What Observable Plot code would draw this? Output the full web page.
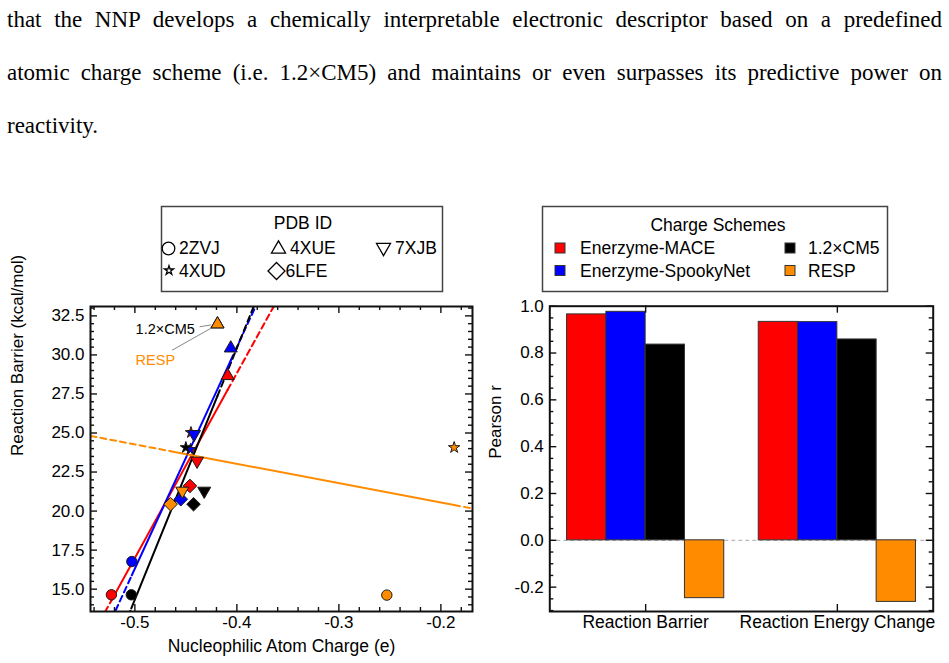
<!DOCTYPE html>
<html>
<head>
<meta charset="utf-8">
<script src="https://cdn.jsdelivr.net/npm/d3@7"></script>
<script src="https://cdn.jsdelivr.net/npm/@observablehq/plot@0.6"></script>
<style>
html,body{margin:0;padding:0;background:#fff;}
body{width:949px;height:663px;position:relative;overflow:hidden;font-family:"Liberation Sans",Arial,Helvetica,sans-serif;color:#000;}
.line{position:absolute;left:7px;width:935px;font-family:"Liberation Serif","Times New Roman",serif;font-size:23px;line-height:40px;height:40px;}
.just{text-align:justify;text-align-last:justify;}
.abs{position:absolute;}
</style>
</head>
<body>
<div class="line just" style="top:0px">that the NNP develops a chemically interpretable electronic descriptor based on a predefined</div>
<div class="line just" style="top:53px">atomic charge scheme (i.e. 1.2×CM5) and maintains or even surpasses its predictive power on</div>
<div class="line" style="top:106px">reactivity.</div>
<div id="legL" class="abs" style="left:150px;top:200px;"></div>
<div id="legR" class="abs" style="left:530px;top:200px;"></div>
<div id="left" class="abs" style="left:0px;top:290px;"></div>
<div id="right" class="abs" style="left:480px;top:290px;"></div>
<script>
// ---------------- data ----------------
const pdbIds = ["2ZVJ", "4XUE", "7XJB", "4XUD", "6LFE"];
const schemes = ["Enerzyme-MACE", "Enerzyme-SpookyNet", "1.2×CM5", "RESP"];
const schemeColors = ["#ff0000", "#0000ff", "#000000", "#ff8c00"];

// nucleophilic atom charge (e), ordered as pdbIds
const chargeMACE   = [-0.523, -0.409, -0.439, -0.445, -0.446];
const chargeSpooky = [-0.503, -0.406, -0.442, -0.4455, -0.455];
const chargeCM5    = [-0.5035, -0.419, -0.432, -0.450, -0.4425];
const chargeRESP   = [-0.253, -0.419, -0.4535, -0.187, -0.465];
// reaction barrier (kcal/mol), ordered as pdbIds
const barrierMACE   = [14.64, 28.66, 23.21, 25.03, 21.61];
const barrierSpooky = [16.77, 30.43, 24.92, 23.95, 20.76];
const barrierCM5    = [14.64, 31.97, 21.29, 24.07, 20.44];
const barrierRESP   = [14.62, 31.97, 21.29, 24.07, 20.44];

const metrics = ["Reaction Barrier", "Reaction Energy Change"];
const pearsonMACE   = [0.965, 0.933];
const pearsonSpooky = [0.976, 0.932];
const pearsonCM5    = [0.836, 0.858];
const pearsonRESP   = [-0.247, -0.263];

const xTicksLeft  = [-0.5, -0.4, -0.3, -0.2];
const yTicksLeft  = [15, 17.5, 20, 22.5, 25, 27.5, 30, 32.5];
const yTicksRight = [-0.2, 0, 0.2, 0.4, 0.6, 0.8, 1.0];

// ---------------- helpers ----------------
const FONT = '"Liberation Sans", Arial, Helvetica, sans-serif';
const charges = [chargeMACE, chargeSpooky, chargeCM5, chargeRESP];
const barriers = [barrierMACE, barrierSpooky, barrierCM5, barrierRESP];
const pearsons = [pearsonMACE, pearsonSpooky, pearsonCM5, pearsonRESP];

function makeSymbols(sz) {
  const circle = {draw(c) { const r = sz.circle; c.moveTo(r, 0); c.arc(0, 0, r, 0, 2 * Math.PI); c.closePath(); }};
  const tri = (dir) => ({draw(c) {
    const a = sz.tri, h = a * Math.sqrt(3) / 2;
    c.moveTo(0, -dir * 2 * h / 3); c.lineTo(a / 2, dir * h / 3); c.lineTo(-a / 2, dir * h / 3); c.closePath();
  }});
  const star = {draw(c) {
    const R = sz.star, r = R * 0.382;
    for (let i = 0; i < 10; i++) {
      const rr = i % 2 ? r : R, ang = -Math.PI / 2 + i * Math.PI / 5;
      const x = rr * Math.cos(ang), y = rr * Math.sin(ang);
      if (i === 0) c.moveTo(x, y); else c.lineTo(x, y);
    }
    c.closePath();
  }};
  const diamond = {draw(c) { const r = sz.diamond; c.moveTo(0, -r); c.lineTo(r, 0); c.lineTo(0, r); c.lineTo(-r, 0); c.closePath(); }};
  return [circle, tri(1), tri(-1), star, diamond];
}
function symbolPath(sym) { const p = d3.path(); sym.draw(p, 0); return p.toString(); }

const style = {fontFamily: FONT, fontSize: "17px", color: "#000", background: "none", overflow: "visible"};

// ---------------- left scatter ----------------
const points = schemes.flatMap((s, si) => pdbIds.map((p, pi) => ({scheme: s, pdb: p, charge: charges[si][pi], barrier: barriers[si][pi]})));
const xDomL = [-0.5435, -0.169];
const yDomL = [13.57, 33.1];
const WL = 480, HL = 373, mL = {l: 90, r: 8, t: 16, b: 52};
const fwL = WL - mL.l - mL.r, fhL = HL - mL.t - mL.b;

const fits = schemes.map((s, si) => {
  const xs = charges[si], ys = barriers[si];
  const mx = d3.mean(xs), my = d3.mean(ys);
  const b = d3.sum(xs, (x, i) => (x - mx) * (ys[i] - my)) / d3.sum(xs, x => (x - mx) ** 2);
  return {scheme: s, f: x => my + b * (x - mx), lo: d3.min(xs), hi: d3.max(xs)};
});
const solidSegs = fits.flatMap(ft => [ft.lo, ft.hi].map(x => ({scheme: ft.scheme, x, y: ft.f(x)})));
const dashSegs = fits.flatMap(ft => [[xDomL[0], ft.lo, "a"], [ft.hi, xDomL[1], "b"]]
  .flatMap(([a, b, k]) => [a, b].map(x => ({scheme: ft.scheme, seg: ft.scheme + k, x, y: ft.f(x)}))));

const xMinorL = d3.range(-27, -8).filter(i => i % 5 !== 0).map(i => i * 0.02);
const yMinorL = d3.range(28, 67).filter(i => i % 5 !== 0).map(i => i * 0.5);

const annotText = [
  {label: "1.2×CM5", x: -0.4993, y: 31.62, color: "#000"},
  {label: "RESP", x: -0.4993, y: 29.62, color: "#ff8c00"}
];
const annotLinks = [
  {x1: -0.4365, y1: 31.80, x2: -0.4255, y2: 31.92},
  {x1: -0.4635, y1: 30.30, x2: -0.4250, y2: 31.72}
];

const tickStyle = {stroke: "#111", strokeWidth: 1.4};
const left = Plot.plot({
  width: WL, height: HL,
  marginLeft: mL.l, marginRight: mL.r, marginTop: mL.t, marginBottom: mL.b,
  x: {domain: xDomL}, y: {domain: yDomL},
  color: {domain: schemes, range: schemeColors},
  symbol: {domain: pdbIds, range: makeSymbols({circle: 5.2, tri: 13, star: 6, diamond: 6.8})},
  style,
  marks: [
    Plot.line(dashSegs, {x: "x", y: "y", z: "seg", stroke: "scheme", strokeWidth: 2, strokeDasharray: "6,4", clip: true}),
    Plot.line(solidSegs, {x: "x", y: "y", z: "scheme", stroke: "scheme", strokeWidth: 2, clip: true}),
    Plot.link(annotLinks, {x1: "x1", y1: "y1", x2: "x2", y2: "y2", stroke: "#888", strokeWidth: 1}),
    Plot.text(annotText, {x: "x", y: "y", text: "label", fill: d => d.color, textAnchor: "start", fontSize: 14.5}),
    Plot.dot(points, {x: "charge", y: "barrier", fill: "scheme", symbol: "pdb", r: 5, stroke: "#1a1a1a", strokeWidth: 1}),
    // ticks (inward, all four sides)
    Plot.ruleX(xTicksLeft, {x: d => d, insetTop: fhL - 7, ...tickStyle}),
    Plot.ruleX(xTicksLeft, {x: d => d, insetBottom: fhL - 7, ...tickStyle}),
    Plot.ruleX(xMinorL, {x: d => d, insetTop: fhL - 4, ...tickStyle}),
    Plot.ruleX(xMinorL, {x: d => d, insetBottom: fhL - 4, ...tickStyle}),
    Plot.ruleY(yTicksLeft, {y: d => d, insetRight: fwL - 7, ...tickStyle}),
    Plot.ruleY(yTicksLeft, {y: d => d, insetLeft: fwL - 7, ...tickStyle}),
    Plot.ruleY(yMinorL, {y: d => d, insetRight: fwL - 4, ...tickStyle}),
    Plot.ruleY(yMinorL, {y: d => d, insetLeft: fwL - 4, ...tickStyle}),
    Plot.frame({stroke: "#111", strokeWidth: 2}),
    Plot.axisX(xTicksLeft, {anchor: "bottom", tickSize: 0, tickPadding: 4, tickFormat: d => d.toFixed(1), label: null}),
    Plot.axisY(yTicksLeft, {anchor: "left", tickSize: 0, tickPadding: 6, tickFormat: d => d.toFixed(1), label: null}),
    Plot.text(["Nucleophilic Atom Charge (e)"], {frameAnchor: "bottom", lineAnchor: "middle", dy: 35, text: d => d, fontSize: 17.5}),
    Plot.text(["Reaction Barrier (kcal/mol)"], {frameAnchor: "left", lineAnchor: "middle", dx: -73, dy: -3, rotate: -90, text: d => d, fontSize: 17})
  ]
});
document.getElementById("left").appendChild(left);

// ---------------- right bars ----------------
const barW = 0.205;
const bars = metrics.flatMap((m, mi) => schemes.map((s, si) => ({metric: m, mi, scheme: s, si, r: pearsons[si][mi]})));
const WR = 469, HR = 373, mR = {l: 69.3, r: 16.3, t: 15.7, b: 52};
const fwR = WR - mR.l - mR.r, fhR = HR - mR.t - mR.b;
const yMinorR = d3.range(-6, 21).filter(i => i % 4 !== 0).map(i => i * 0.05);
const xCenters = metrics.map((m, i) => i);

const right = Plot.plot({
  width: WR, height: HR,
  marginLeft: mR.l, marginRight: mR.r, marginTop: mR.t, marginBottom: mR.b,
  x: {domain: [-0.5, 1.5]}, y: {domain: [-0.304, 1.0]},
  color: {domain: schemes, range: schemeColors},
  style,
  marks: [
    Plot.ruleY([0], {stroke: "#aaa", strokeWidth: 1, strokeDasharray: "4,3"}),
    Plot.rect(bars, {x1: d => d.mi + (d.si - 2) * barW, x2: d => d.mi + (d.si - 1) * barW, y1: d => 0, y2: "r", fill: "scheme", stroke: "#333", strokeWidth: 1}),
    Plot.ruleX(xCenters, {x: d => d, insetTop: fhR - 7, ...tickStyle}),
    Plot.ruleX(xCenters, {x: d => d, insetBottom: fhR - 7, ...tickStyle}),
    Plot.ruleY(yTicksRight, {y: d => d, insetRight: fwR - 7, ...tickStyle}),
    Plot.ruleY(yTicksRight, {y: d => d, insetLeft: fwR - 7, ...tickStyle}),
    Plot.ruleY(yMinorR, {y: d => d, insetRight: fwR - 4, ...tickStyle}),
    Plot.ruleY(yMinorR, {y: d => d, insetLeft: fwR - 4, ...tickStyle}),
    Plot.frame({stroke: "#111", strokeWidth: 2}),
    Plot.axisX(xCenters, {anchor: "bottom", tickSize: 0, tickPadding: 4, tickFormat: i => metrics[i], label: null, fontSize: 17.5}),
    Plot.axisY(yTicksRight, {anchor: "left", tickSize: 0, tickPadding: 6, tickFormat: d => d.toFixed(1), label: null}),
    Plot.text(["Pearson r"], {frameAnchor: "left", lineAnchor: "middle", dx: -54, rotate: -90, text: d => d, fontSize: 17})
  ]
});
document.getElementById("right").appendChild(right);

// ---------------- legends ----------------
const ns = "http://www.w3.org/2000/svg";
function legendSvg(id, w, h, ox, oy) {
  const svg = d3.select("#" + id).append("svg").attr("xmlns", ns).attr("width", w).attr("height", h)
    .style("font-family", FONT).style("font-size", "17.5px").style("display", "block");
  const g = svg.append("g").attr("transform", `translate(${-ox},${-oy})`);
  return g;
}
function legText(g, txt, x, yc, anchor = "start") {
  g.append("text").attr("x", x).attr("y", yc + 6).attr("text-anchor", anchor).attr("fill", "#000").text(txt);
}
// PDB ID legend
{
  const g = legendSvg("legL", 300, 100, 150, 200);
  g.append("rect").attr("x", 161.5).attr("y", 206.5).attr("width", 281).attr("height", 85)
    .attr("fill", "#fff").attr("stroke", "#444").attr("stroke-width", 1.5);
  legText(g, "PDB ID", 303, 223, "middle");
  const syms = makeSymbols({circle: 6.3, tri: 14, star: 4.8, diamond: 8.5});
  const pos = [
    {sx: 168.5, sy: 248.5, tx: 179, ty: 248},
    {sx: 278.5, sy: 249, tx: 290, ty: 248},
    {sx: 383.5, sy: 247.5, tx: 395, ty: 248},
    {sx: 169, sy: 270.5, tx: 179, ty: 271},
    {sx: 276.5, sy: 271, tx: 285.5, ty: 271}
  ];
  pdbIds.forEach((p, i) => {
    g.append("path").attr("d", symbolPath(syms[i])).attr("transform", `translate(${pos[i].sx},${pos[i].sy})`)
      .attr("fill", "#fff").attr("stroke", "#000").attr("stroke-width", 1.3);
    legText(g, p, pos[i].tx, pos[i].ty);
  });
}
// Charge scheme legend
{
  const g = legendSvg("legR", 370, 100, 530, 200);
  g.append("rect").attr("x", 542.5).attr("y", 206.5).attr("width", 345).attr("height", 85)
    .attr("fill", "#fff").attr("stroke", "#444").attr("stroke-width", 1.5);
  legText(g, "Charge Schemes", 718, 225, "middle");
  const pos = [
    {sx: 555, sy: 243, tx: 580, ty: 248},
    {sx: 555, sy: 265.5, tx: 580, ty: 270.5},
    {sx: 785, sy: 243, tx: 808, ty: 248},
    {sx: 785, sy: 265.5, tx: 808, ty: 270.5}
  ];
  schemes.forEach((s, i) => {
    g.append("rect").attr("x", pos[i].sx).attr("y", pos[i].sy).attr("width", 10).attr("height", 10)
      .attr("fill", schemeColors[i]).attr("stroke", "#333").attr("stroke-width", 1);
    legText(g, s, pos[i].tx, pos[i].ty);
  });
}
</script>
</body>
</html>
